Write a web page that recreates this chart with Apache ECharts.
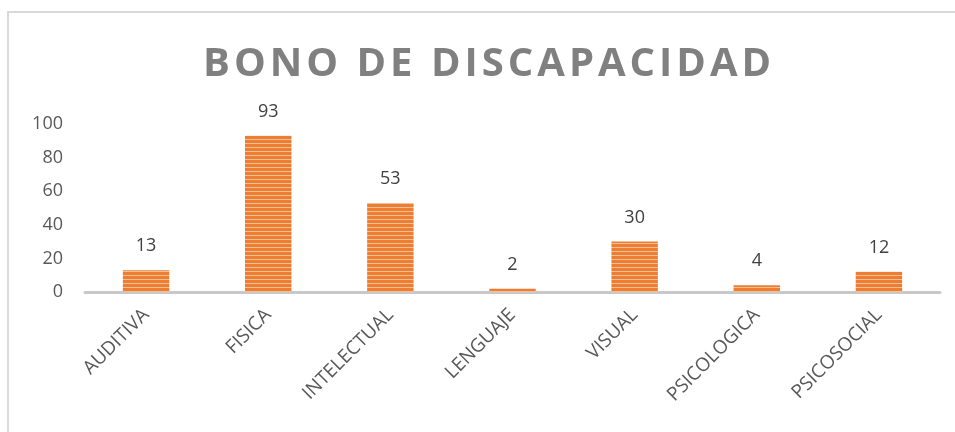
<!DOCTYPE html>
<html>
<head>
<meta charset="utf-8">
<script src="https://cdn.jsdelivr.net/npm/echarts@6/dist/echarts.min.js"></script>
<style>
  html, body { margin: 0; padding: 0; background: #fff; }
  #chart { width: 955px; height: 432px; }
</style>
</head>
<body>
<div id="chart"></div>
<script>
// Beneficiaries of the disability bonus, by type of disability
const titleText = 'BONO DE DISCAPACIDAD';
const categories = ['AUDITIVA', 'FISICA', 'INTELECTUAL', 'LENGUAJE', 'VISUAL', 'PSICOLOGICA', 'PSICOSOCIAL'];
const values = [13, 93, 53, 2, 30, 4, 12];
const yTicks = [0, 20, 40, 60, 80, 100];

// Hair spaces between letters give the heading its wide tracking
const spacedTitle = titleText.split('').join('\u200A');

// Horizontal-stripe fill for the bars
function stripePattern() {
  const c = document.createElement('canvas');
  c.width = 4; c.height = 4;
  const ctx = c.getContext('2d');
  ctx.fillStyle = '#ED7D31';
  ctx.fillRect(0, 0, 4, 4);
  ctx.fillStyle = '#F6BE96';
  ctx.fillRect(0, 3, 4, 1);
  return c;
}

const chart = echarts.init(document.getElementById('chart'), null, { renderer: 'canvas' });
chart.setOption({
  animation: false,
  backgroundColor: '#ffffff',
  title: {
    text: spacedTitle,
    left: 198,
    top: 40,
    textStyle: {
      fontFamily: 'Open Sans',
      fontWeight: 'bold',
      fontSize: 40,
      color: '#808080'
    }
  },
  graphic: [{
    type: 'rect',
    shape: { x: 8, y: 12, width: 960, height: 440 },
    style: { fill: 'none', stroke: '#d9d9d9', lineWidth: 2 },
    silent: true
  }],
  grid: { left: 85, right: 15, top: 124, bottom: 140 },
  xAxis: {
    type: 'category',
    data: categories,
    axisTick: { show: false },
    axisLine: { lineStyle: { color: '#c8c8c8', width: 3 } },
    axisLabel: {
      rotate: 45,
      margin: 20,
      interval: 0,
      fontFamily: 'Open Sans',
      fontSize: 19,
      color: '#595959'
    }
  },
  yAxis: {
    type: 'value',
    min: yTicks[0],
    max: yTicks[yTicks.length - 1],
    interval: 20,
    splitLine: { show: false },
    axisLine: { show: false },
    axisTick: { show: false },
    axisLabel: {
      margin: 22,
      fontFamily: 'Open Sans',
      fontSize: 18,
      color: '#595959'
    }
  },
  series: [{
    type: 'bar',
    data: values,
    barWidth: '38%',
    itemStyle: {
      color: { image: stripePattern(), repeat: 'repeat' }
    },
    label: {
      show: true,
      position: 'top',
      distance: 15,
      fontFamily: 'Open Sans',
      fontSize: 18,
      color: '#404040'
    }
  }]
});
</script>
</body>
</html>
